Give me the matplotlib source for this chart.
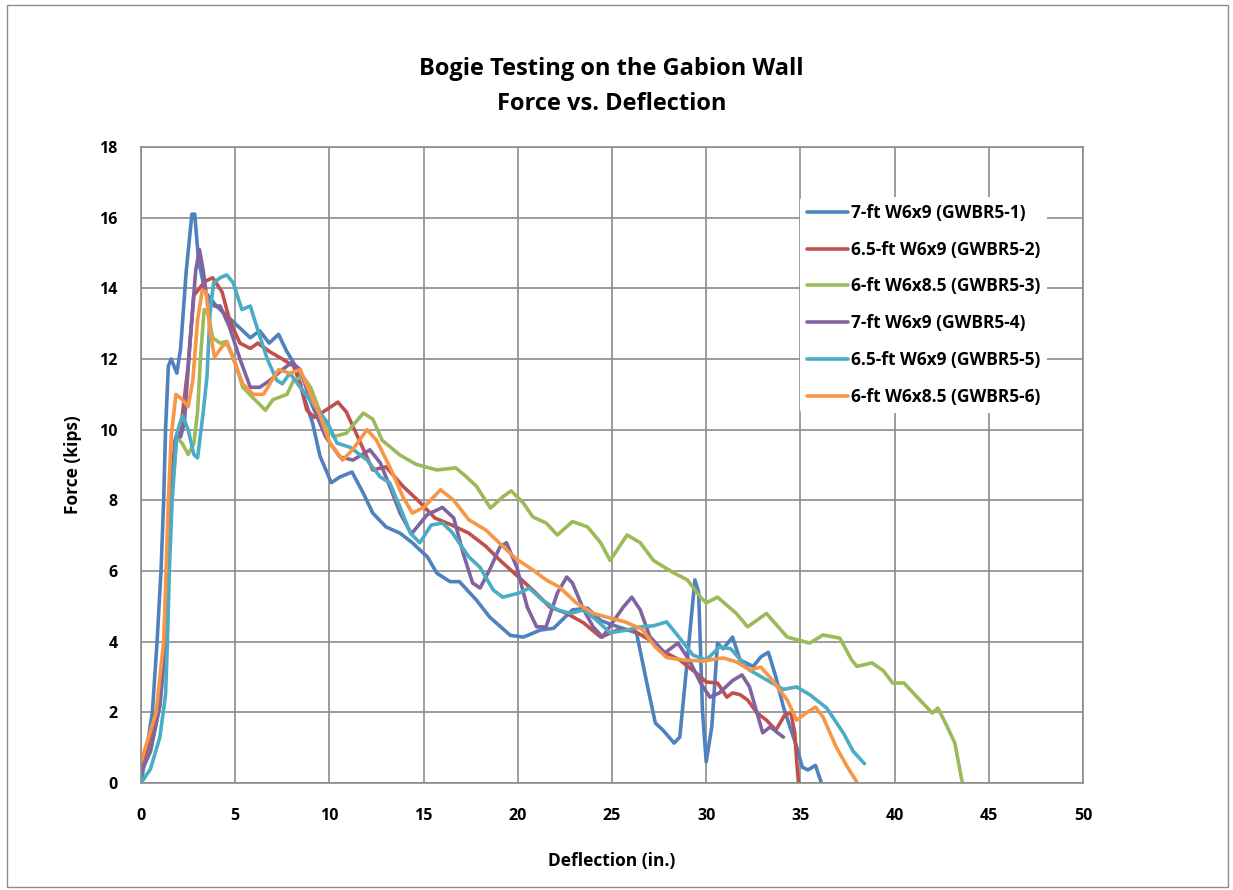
import matplotlib
matplotlib.use("Agg")
import matplotlib.pyplot as plt
from matplotlib.patches import Rectangle

# deflection (in.) / force (kips)
gw1_x = [0, 0.25, 0.6, 0.85, 1.06, 1.2, 1.3, 1.45, 1.6, 1.9, 2.1, 2.4, 2.7, 2.85, 3.05, 3.4, 4.0, 5.0, 5.8, 6.3,
         6.8, 7.3, 7.7, 8.2, 8.6, 9.1, 9.5, 10.1, 10.55, 11.2, 11.8, 12.3, 13.0, 13.75, 14.4, 15.2, 15.7, 16.4,
         16.9, 17.8, 18.5, 19.6, 20.3, 21.2, 21.9, 22.9, 23.7, 24.4, 25.05, 26.3, 26.9, 27.3, 27.7, 28.3, 28.6,
         29.0, 29.4, 29.6, 29.8, 30.0, 30.3, 30.6, 30.9, 31.4, 31.8, 32.5, 32.9, 33.3, 33.7, 34.1, 34.8, 35.1,
         35.4, 35.8, 36.1]
gw1_y = [0, 0.8, 2.0, 4.0, 6.0, 8.0, 10.0, 11.8, 12.0, 11.6, 12.3, 14.5, 16.1, 16.1, 14.8, 13.9, 13.5, 13.0, 12.6,
         12.8, 12.45, 12.7, 12.25, 11.8, 11.0, 10.2, 9.25, 8.5, 8.66, 8.8, 8.2, 7.64, 7.25, 7.07, 6.8, 6.4, 5.94,
         5.7, 5.7, 5.18, 4.7, 4.18, 4.13, 4.33, 4.38, 4.9, 4.95, 4.6, 4.47, 4.25, 2.7, 1.7, 1.5, 1.13, 1.3, 3.5,
         5.75, 5.4, 2.07, 0.6, 1.6, 3.96, 3.8, 4.13, 3.48, 3.3, 3.57, 3.7, 3.0, 2.15, 1.03, 0.45, 0.37, 0.5, 0.03]

gw2_x = [0, 0.5, 1.0, 1.25, 1.4, 1.55, 1.8, 2.1, 2.5, 2.8, 3.1, 3.4, 3.8, 4.3, 4.7, 5.25, 5.8, 6.2, 6.85, 7.5,
         8.1, 8.45, 8.8, 9.2, 9.8, 10.45, 10.9, 11.5, 12.3, 13.0, 13.9, 14.7, 15.6, 16.5, 17.4, 18.3, 19.1, 20.0,
         20.8, 21.7, 22.6, 23.5, 24.4, 25.3, 26.1, 27.0, 27.8, 28.6, 29.5, 30.0, 30.6, 31.1, 31.4, 31.8, 32.2,
         32.7, 33.2, 33.7, 34.2, 34.5, 34.7, 34.8, 34.9]
gw2_y = [0.5, 1.2, 2.5, 4.0, 6.0, 8.0, 9.7, 10.0, 11.8, 13.8, 14.0, 14.2, 14.3, 13.9, 13.1, 12.45, 12.3, 12.45,
         12.2, 12.0, 11.8, 11.3, 10.55, 10.35, 10.55, 10.78, 10.5, 9.8, 8.86, 8.95, 8.4, 8.0, 7.5, 7.3, 7.07, 6.7,
         6.28, 5.85, 5.46, 4.98, 4.8, 4.53, 4.13, 4.33, 4.33, 4.05, 3.7, 3.48, 3.1, 2.86, 2.83, 2.43, 2.55, 2.5,
         2.35, 1.98, 1.78, 1.5, 1.95, 1.98, 1.42, 0.65, 0.0]

gw3_x = [0, 0.5, 1.0, 1.3, 1.45, 1.6, 1.9, 2.2, 2.5, 2.8, 3.0, 3.15, 3.35, 3.55, 3.8, 4.2, 4.55, 5.0, 5.4, 5.95,
         6.6, 7.0, 7.75, 8.1, 8.6, 9.0, 9.5, 10.2, 10.9, 11.8, 12.3, 12.8, 13.75, 14.6, 15.7, 16.7, 17.2, 17.8,
         18.55, 19.2, 19.65, 20.3, 20.8, 21.5, 22.1, 22.9, 23.7, 24.4, 24.9, 25.8, 26.5, 27.2, 28.2, 29.0, 29.7,
         30.0, 30.6, 31.6, 32.2, 33.2, 34.3, 35.5, 36.2, 37.1, 37.7, 38.0, 38.8, 39.4, 39.9, 40.5, 41.2, 42.0,
         42.3, 42.8, 43.2, 43.6]
gw3_y = [0.3, 0.9, 2.2, 4.0, 6.0, 8.0, 9.8, 9.6, 9.3, 9.6, 10.5, 12.0, 13.4, 13.3, 12.6, 12.45, 12.5, 11.9, 11.2,
         10.9, 10.55, 10.85, 11.0, 11.4, 11.5, 11.2, 10.5, 9.8, 9.9, 10.47, 10.3, 9.7, 9.28, 9.02, 8.86, 8.92, 8.7,
         8.4, 7.78, 8.1, 8.27, 7.92, 7.53, 7.36, 7.02, 7.4, 7.25, 6.8, 6.3, 7.02, 6.8, 6.3, 5.97, 5.75, 5.26, 5.1,
         5.26, 4.8, 4.42, 4.8, 4.13, 3.96, 4.19, 4.1, 3.5, 3.3, 3.4, 3.18, 2.83, 2.83, 2.43, 1.98, 2.12, 1.59,
         1.13, 0.0]

gw4_x = [0, 0.5, 1.0, 1.3, 1.45, 1.6, 1.85, 2.1, 2.3, 2.6, 2.9, 3.1, 3.3, 3.5, 3.9, 4.2, 4.7, 5.25, 5.8, 6.3,
         6.85, 7.5, 8.0, 8.45, 9.0, 9.8, 10.55, 11.25, 12.15, 12.7, 13.2, 13.75, 14.35, 15.2, 16.0, 16.6, 17.1,
         17.6, 18.0, 18.5, 19.05, 19.4, 19.95, 20.5, 21.0, 21.5, 22.1, 22.6, 22.9, 23.5, 24.0, 24.5, 25.1, 25.6,
         26.05, 26.5, 27.0, 27.8, 28.5, 29.1, 29.7, 30.2, 30.7, 31.4, 31.9, 32.3, 32.7, 33.0, 33.4, 33.8, 34.1]
gw4_y = [0.3, 0.9, 2.2, 4.0, 6.0, 8.0, 9.8, 9.8, 10.2, 12.5, 14.5, 15.1, 14.5, 13.7, 13.5, 13.5, 12.9, 12.0, 11.2,
         11.2, 11.4, 11.7, 11.9, 11.7, 10.8, 9.8, 9.23, 9.14, 9.43, 9.06, 8.4, 7.64, 7.05, 7.6, 7.8, 7.5, 6.5,
         5.66, 5.52, 6.03, 6.68, 6.8, 6.1, 4.98, 4.42, 4.42, 5.38, 5.83, 5.66, 4.9, 4.42, 4.13, 4.6, 4.98, 5.26,
         4.9, 4.15, 3.68, 3.96, 3.48, 2.83, 2.43, 2.55, 2.9, 3.06, 2.72, 1.98, 1.42, 1.59, 1.42, 1.3]

gw5_x = [0, 0.5, 1.0, 1.3, 1.4, 1.5, 1.65, 1.9, 2.2, 2.5, 2.8, 3.0, 3.3, 3.5, 3.66, 3.85, 4.2, 4.55, 4.9, 5.35,
         5.8, 6.15, 6.7, 7.2, 7.5, 7.9, 8.45, 9.1, 9.9, 10.4, 11.1, 12.0, 12.7, 13.2, 13.75, 14.3, 14.8, 15.4,
         16.0, 16.5, 17.4, 18.0, 18.7, 19.2, 20.1, 20.6, 21.3, 22.1, 22.8, 23.5, 24.2, 24.9, 25.8, 26.5, 27.2,
         27.9, 28.6, 29.3, 30.0, 30.7, 31.3, 32.3, 33.2, 34.1, 34.8, 35.5, 36.4, 37.3, 37.8, 38.4]
gw5_y = [0, 0.4, 1.3, 2.5, 4.0, 6.0, 8.0, 9.9, 10.4, 10.0, 9.3, 9.2, 10.5, 11.5, 13.3, 14.15, 14.3, 14.38, 14.15,
         13.4, 13.5, 12.9, 12.0, 11.4, 11.3, 11.6, 11.2, 10.75, 10.2, 9.62, 9.5, 9.14, 8.66, 8.5, 7.8, 7.07, 6.8,
         7.3, 7.36, 7.1, 6.4, 6.1, 5.46, 5.26, 5.38, 5.52, 5.18, 4.9, 4.8, 4.9, 4.6, 4.25, 4.33, 4.42, 4.45, 4.56,
         4.1, 3.62, 3.48, 3.85, 3.8, 3.2, 2.92, 2.65, 2.72, 2.5, 2.12, 1.4, 0.9, 0.55]

gw6_x = [0, 0.4, 0.8, 1.2, 1.33, 1.45, 1.6, 1.85, 2.2, 2.5, 2.75, 3.0, 3.25, 3.45, 3.66, 3.9, 4.3, 4.55, 4.9,
         5.4, 5.95, 6.5, 6.95, 7.3, 7.9, 8.45, 9.0, 9.5, 10.0, 10.7, 11.25, 12.0, 12.5, 13.2, 13.9, 14.4, 15.0,
         15.9, 16.6, 17.4, 18.3, 19.05, 19.9, 20.8, 21.5, 22.2, 23.1, 24.0, 24.9, 25.7, 26.6, 27.3, 27.9, 28.8,
         29.8, 30.9, 31.6, 32.3, 32.9, 33.5, 34.3, 34.8, 35.3, 35.8, 36.2, 36.9, 37.5, 38.0]
gw6_y = [0.6, 1.3, 2.0, 4.0, 6.0, 8.0, 9.8, 11.0, 10.85, 10.65, 11.4, 13.1, 13.95, 13.9, 12.8, 12.05, 12.35, 12.45,
         12.0, 11.3, 11.0, 11.0, 11.4, 11.7, 11.6, 11.7, 11.0, 10.4, 9.65, 9.14, 9.45, 10.0, 9.7, 8.95, 8.1, 7.64,
         7.8, 8.3, 8.0, 7.45, 7.16, 6.78, 6.35, 6.03, 5.75, 5.55, 5.1, 4.8, 4.67, 4.56, 4.35, 3.85, 3.55, 3.48,
         3.45, 3.54, 3.43, 3.2, 3.28, 2.92, 2.35, 1.78, 1.98, 2.15, 1.87, 1.02, 0.45, 0.03]

labels = ['7-ft W6x9 (GWBR5-1)', '6.5-ft W6x9 (GWBR5-2)', '6-ft W6x8.5 (GWBR5-3)',
          '7-ft W6x9 (GWBR5-4)', '6.5-ft W6x9 (GWBR5-5)', '6-ft W6x8.5 (GWBR5-6)']
colors = ['#4F81BD', '#C0504D', '#9BBB59', '#8064A2', '#4BACC6', '#F79646']

plt.rcParams['font.family'] = ['Open Sans', 'DejaVu Sans']

fig = plt.figure(figsize=(12.33, 8.9), dpi=100)
ax = fig.add_axes([0.1144, 0.1202, 0.7639, 0.7146])

series = [(gw1_x, gw1_y), (gw2_x, gw2_y), (gw3_x, gw3_y), (gw4_x, gw4_y), (gw5_x, gw5_y), (gw6_x, gw6_y)]
for (xs, ys), lab, c in zip(series, labels, colors):
    ax.plot(xs, ys, color=c, lw=2.6, label=lab, solid_joinstyle='round', solid_capstyle='round')

ax.set_xlim(0, 50)
ax.set_ylim(0, 18)
ax.set_xticks(range(0, 51, 5))
ax.set_yticks(range(0, 19, 2))
ax.grid(True, color='#8c8c8c', lw=1.2)
ax.set_axisbelow(True)
for s in ax.spines.values():
    s.set_color('#8c8c8c')
    s.set_linewidth(1.2)
ax.tick_params(length=0, labelsize=11.5)
ax.tick_params(axis='x', pad=18)
ax.tick_params(axis='y', pad=17)
for t in ax.get_xticklabels() + ax.get_yticklabels():
    t.set_fontweight('bold')

ax.set_xlabel('Deflection (in.)', fontsize=12.5, fontweight='bold', labelpad=20)
ax.set_ylabel('Force (kips)', fontsize=12.5, fontweight='bold', labelpad=12)

fig.text(0.496, 0.923, 'Bogie Testing on the Gabion Wall', ha='center', va='center',
         fontsize=17, fontweight='bold')
fig.text(0.496, 0.883, 'Force vs. Deflection', ha='center', va='center',
         fontsize=17, fontweight='bold')

leg = ax.legend(loc='upper left', bbox_to_anchor=(0.69, 0.935), frameon=True, fontsize=12.5,
                handlelength=2.4, handletextpad=0.15, labelspacing=1.08, borderpad=0.4)
leg.get_frame().set_facecolor('white')
leg.get_frame().set_edgecolor('none')
leg.get_frame().set_alpha(1)
for t in leg.get_texts():
    t.set_fontweight('bold')

fig.patches.append(Rectangle((0.006, 0.003), 0.99, 0.991, transform=fig.transFigure,
                             fill=False, edgecolor='#8c8c8c', lw=1.0))

fig.savefig('out.png', dpi=100)
